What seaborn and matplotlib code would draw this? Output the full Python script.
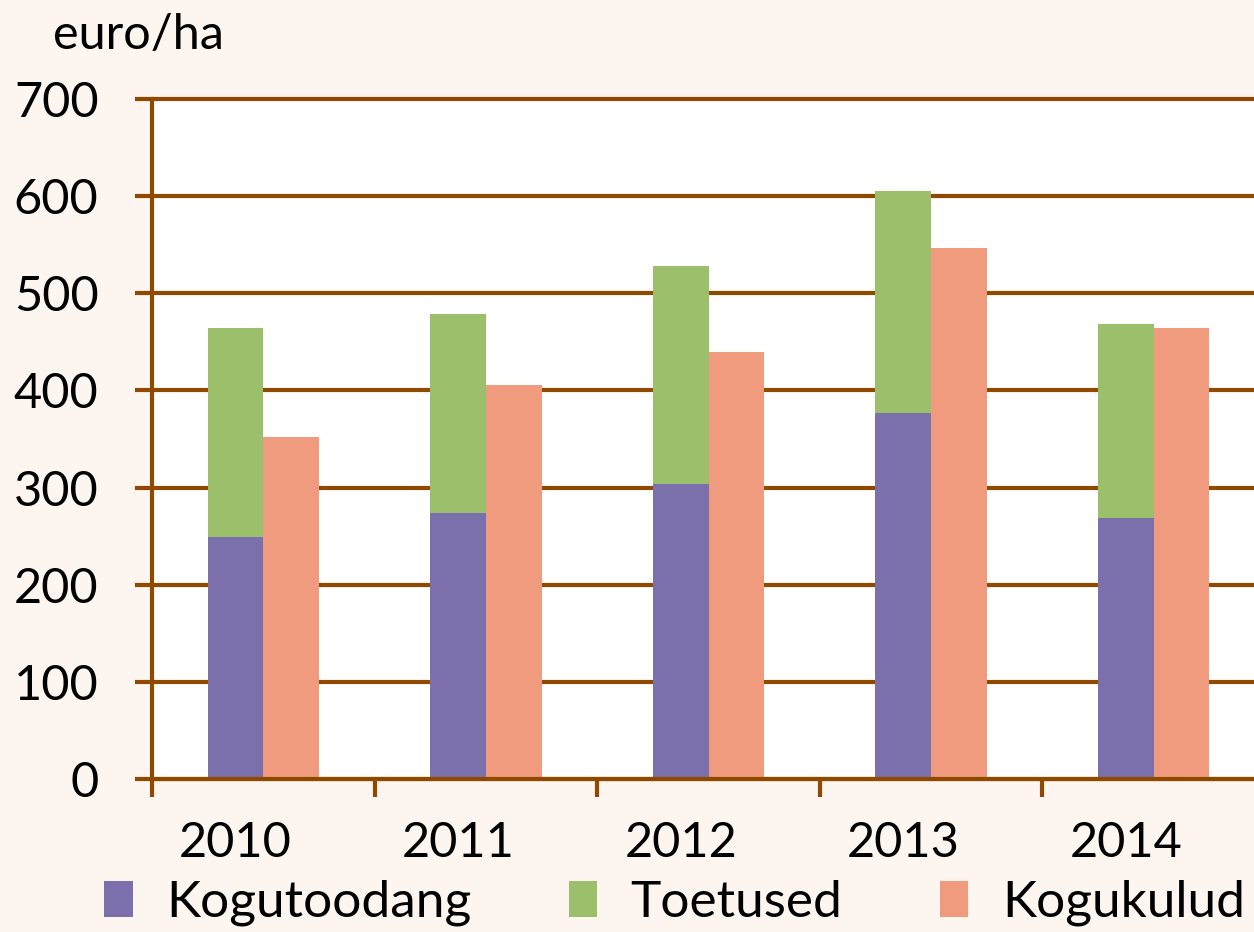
import pandas as pd
import matplotlib
matplotlib.use("Agg")
import matplotlib.pyplot as plt
import seaborn as sns
from matplotlib.patches import Patch

# Andmed (euro/ha)
aastad = ["2010", "2011", "2012", "2013", "2014"]
kogutoodang = [249, 274, 304, 377, 269]
toetused = [215, 205, 224, 228, 199]
kogukulud = [352, 406, 440, 547, 464]

seeria_nimed = ["Kogutoodang", "Toetused", "Kogukulud"]
varvid = ["#7B70AB", "#9BBF6A", "#F19B7E"]
pruun = "#8F4A00"
taust = "#FDF6F0"

sns.set_theme(style="white")
plt.rcParams["font.family"] = ["Lato", "DejaVu Sans"]
plt.rcParams["text.color"] = "black"
plt.rcParams["xtick.color"] = "black"
plt.rcParams["ytick.color"] = "black"

# Tulud (virnastatud) ja kulud kõrvuti
tulud_kokku = [k + t for k, t in zip(kogutoodang, toetused)]
df_top = pd.DataFrame({
    "aasta": aastad * 2,
    "grupp": ["tulu"] * len(aastad) + ["kulu"] * len(aastad),
    "vaartus": tulud_kokku + kogukulud,
})
df_alus = pd.DataFrame({
    "aasta": aastad * 2,
    "grupp": ["tulu"] * len(aastad) + ["kulu"] * len(aastad),
    "vaartus": kogutoodang + [0] * len(aastad),
})

fig = plt.figure(figsize=(12.54, 9.32), dpi=100, facecolor=taust)
ax = fig.add_axes([0.1212, 0.1642, 0.8876, 0.7296])
ax.set_facecolor("white")

sns.barplot(data=df_top, x="aasta", y="vaartus", hue="grupp", hue_order=["tulu", "kulu"],
            palette={"tulu": varvid[1], "kulu": varvid[2]}, width=0.5, dodge=True,
            saturation=1, linewidth=0, legend=False, ax=ax, zorder=3)
sns.barplot(data=df_alus, x="aasta", y="vaartus", hue="grupp", hue_order=["tulu", "kulu"],
            palette={"tulu": varvid[0], "kulu": varvid[2]}, width=0.5, dodge=True,
            saturation=1, linewidth=0, legend=False, ax=ax, zorder=4)

ax.set_xlim(-0.5, len(aastad) - 0.5)
ax.set_ylim(0, 700)
ax.set_yticks(range(0, 701, 100))
ax.set_xlabel("")
ax.set_ylabel("")

# Joonestik ja teljed
ax.yaxis.grid(True, color=pruun, linewidth=3, zorder=1)
for gl in ax.get_ygridlines():
    gl.set_clip_on(False)
ax.set_axisbelow(True)
for s in ["top", "right"]:
    ax.spines[s].set_visible(False)
for s in ["left", "bottom"]:
    ax.spines[s].set_color(pruun)
    ax.spines[s].set_linewidth(3)
    ax.spines[s].set_zorder(5)

ax.tick_params(axis="y", which="major", direction="out", length=12.5, width=3,
               color=pruun, labelcolor="black", labelsize=35, pad=26, left=True)
ax.set_xticks([i - 0.5 for i in range(len(aastad) + 1)])
ax.set_xticklabels([])
ax.tick_params(axis="x", which="major", direction="out", length=13, width=3,
               color=pruun, bottom=True)
ax.set_xticks([i - 0.125 for i in range(len(aastad))], minor=True)
ax.set_xticklabels(aastad, minor=True)
ax.tick_params(axis="x", which="minor", length=0, labelsize=35, labelcolor="black", pad=30)

fig.text(0.042, 0.962, "euro/ha", fontsize=35, ha="left", va="center")

kasitsejad = [Patch(facecolor=c, edgecolor="none") for c in varvid]
fig.legend(kasitsejad, seeria_nimed, loc="center", bbox_to_anchor=(0.538, 0.031),
           ncol=3, frameon=False, fontsize=37, handlelength=0.55, handleheight=0.7,
           handletextpad=0.65, columnspacing=1.9)

fig.savefig("out.png", dpi=100, facecolor=taust)
